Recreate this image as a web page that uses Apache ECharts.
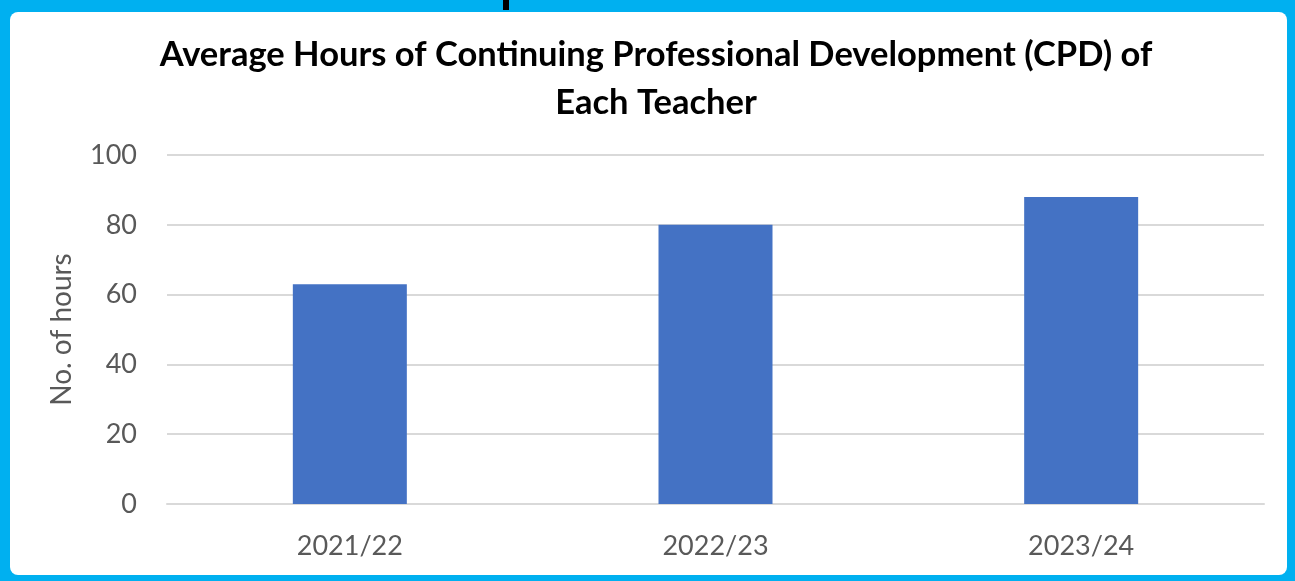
<!DOCTYPE html>
<html>
<head>
<meta charset="utf-8">
<script src="https://cdn.jsdelivr.net/npm/echarts@6/dist/echarts.min.js"></script>
<style>
  html, body { margin: 0; padding: 0; width: 1295px; height: 581px; overflow: hidden; background: #00B0F0; }
  #frame { position: absolute; left: 10px; top: 12px; width: 1277px; height: 563px; background: #ffffff; border-radius: 8px; }
  #chart { position: absolute; left: 0; top: 0; width: 1295px; height: 581px; }
</style>
</head>
<body>
<div id="frame"></div>
<div id="chart"></div>
<script>
const titleLines = ["Average Hours of Continuing Professional Development (CPD) of", "Each Teacher"];
const categories = ["2021/22", "2022/23", "2023/24"];
const hours = [63, 80, 88];
const yAxisName = "No. of hours";
const yMin = 0, yMax = 100, yStep = 20;

const chart = echarts.init(document.getElementById('chart'), null, { renderer: 'canvas' });
const labelColor = '#595959';
const fontFam = 'Lato, "Open Sans", "DejaVu Sans", sans-serif';

chart.setOption({
  backgroundColor: 'transparent',
  animation: false,
  title: {
    text: titleLines.join('\n'),
    left: 651,
    top: 26,
    textAlign: 'center',
    textStyle: {
      fontFamily: fontFam,
      fontWeight: 'bold',
      fontSize: 34.5,
      lineHeight: 48,
      color: '#000000'
    }
  },
  grid: { left: 167, right: 31, top: 155, bottom: 77, containLabel: false },
  xAxis: {
    type: 'category',
    data: categories,
    axisLine: { show: true, lineStyle: { color: '#D9D9D9', width: 2 } },
    axisTick: { show: false },
    axisLabel: { color: labelColor, fontSize: 27, fontFamily: fontFam, margin: 29 }
  },
  yAxis: {
    type: 'value',
    min: yMin, max: yMax, interval: yStep,
    name: yAxisName,
    nameLocation: 'middle',
    nameRotate: 90,
    nameGap: 91,
    nameTextStyle: { color: labelColor, fontSize: 28, fontFamily: fontFam },
    axisLine: { show: false },
    axisTick: { show: false },
    splitLine: { lineStyle: { color: '#D9D9D9', width: 2 } },
    axisLabel: { color: labelColor, fontSize: 27, fontFamily: fontFam, margin: 30 }
  },
  series: [{
    type: 'bar',
    data: hours,
    barWidth: 114,
    itemStyle: { color: '#4472C4' }
  }],
  graphic: [{
    type: 'rect',
    shape: { x: 503, y: 0, width: 6, height: 10 },
    style: { fill: '#000000' },
    silent: true
  }]
});
</script>
</body>
</html>
